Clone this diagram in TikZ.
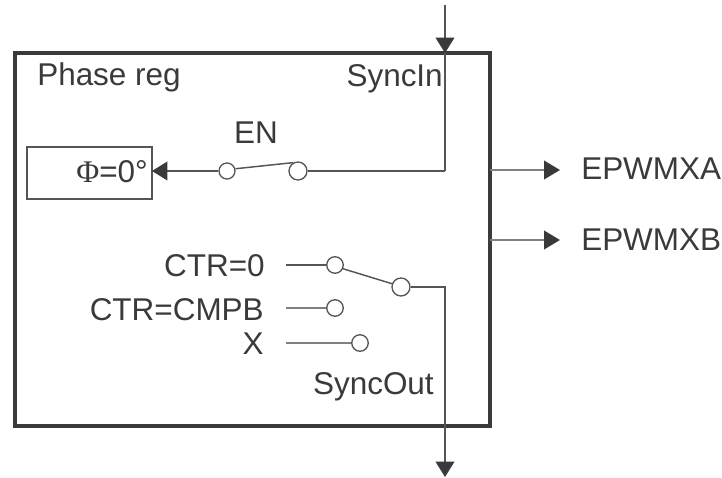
\documentclass[tikz,border=0pt]{standalone}
\usepackage{fontspec}
\setmainfont{Liberation Sans}
\newfontfamily\serifphi{Liberation Serif}
\usetikzlibrary{arrows.meta}
\definecolor{ink}{HTML}{3A3A3A}
\definecolor{wire}{HTML}{555555}
\definecolor{softwire}{HTML}{808080}
\tikzset{
  x=0.75pt,y=-0.75pt,
  lbl/.style={inner sep=0pt,text=ink,font=\fontsize{23.6}{28}\selectfont},
  wireline/.style={draw=wire,line width=1.1pt},
  softline/.style={draw=softwire,line width=1.3pt},
  arrowline/.style={wireline,-{Triangle[length=11.5pt,width=14pt,color=ink]}},
  softarrow/.style={softline,-{Triangle[length=12pt,width=14pt,color=ink]}},
  contact/.style={circle,draw=wire,line width=1pt,fill=white,inner sep=0pt,minimum size=#1*0.75pt},
  blockbox/.style={draw=ink,line width=2.4pt,inner sep=0pt,minimum width=475*0.75pt,minimum height=373*0.75pt},
  regbox/.style={draw=wire,line width=1pt,inner sep=0pt,minimum width=125*0.75pt,minimum height=52*0.75pt},
}
\begin{document}
\begin{tikzpicture}
\useasboundingbox (0,0) rectangle (722,478);
% boxes
\node[blockbox] (block) at (252.5,239.5) {};
\node[regbox] (reg) at (89.5,173) {};
% free ends
\coordinate (inTop) at (445,5);
\coordinate (inBorder) at (445,53);
\coordinate (inTurn) at (445,171);
\coordinate (outTip) at (445,477);
\coordinate (xaStart) at (490,170);
\coordinate (xaTip) at (560,170);
\coordinate (xbStart) at (490,240);
\coordinate (xbTip) at (560,240);
\coordinate (regTip) at (152,171);
\coordinate (ctrA) at (286,265);
\coordinate (ctrB) at (286,308);
\coordinate (ctrX) at (286,343);
% wires (under the contacts)
\draw[arrowline] (inTop) -- (inBorder);
\draw[wireline] (inBorder) -- (inTurn);
\node[contact=16] (enA) at (227,171) {};
\node[contact=18] (enB) at (298,171) {};
\node[contact=16.5] (swA) at (335,265) {};
\node[contact=16.5] (swB) at (335,308) {};
\node[contact=16.5] (swX) at (360,343) {};
\node[contact=18] (swOut) at (401,287) {};
\draw[wireline] (inTurn) -- (enB);
\draw[wireline] (enB.120) -- (enA.15);
\draw[arrowline] (enA) -- (regTip);
\draw[wireline] (ctrA) -- (swA);
\draw[softline] (ctrB) -- (swB);
\draw[softline] (ctrX) -- (swX);
\draw[wireline] (swA.-25) -- (swOut.160);
\draw[arrowline] (swOut) -| (outTip);
\draw[softarrow] (xaStart) -- (xaTip);
\draw[softarrow] (xbStart) -- (xbTip);
% labels
\node[lbl,anchor=base west] (tPhase) at (37,86) {Phase reg};
\node[lbl,anchor=base east] (tIn) at (443,87) {SyncIn};
\node[lbl,anchor=base] (tEN) at (256,143) {EN};
\node[lbl,anchor=base east] (tPhi) at (148,182) {{\serifphi Φ}=0°};
\node[lbl,anchor=base east] (tCa) at (265,276) {CTR=0};
\node[lbl,anchor=base east] (tCb) at (264,320) {CTR=CMPB};
\node[lbl,anchor=base east] (tX) at (264,354) {X};
\node[lbl,anchor=base east] (tOut) at (434,394) {SyncOut};
\node[lbl,anchor=base west] (tA) at (581,180) {EPWMXA};
\node[lbl,anchor=base west] (tB) at (581,250) {EPWMXB};
\end{tikzpicture}
\end{document}
